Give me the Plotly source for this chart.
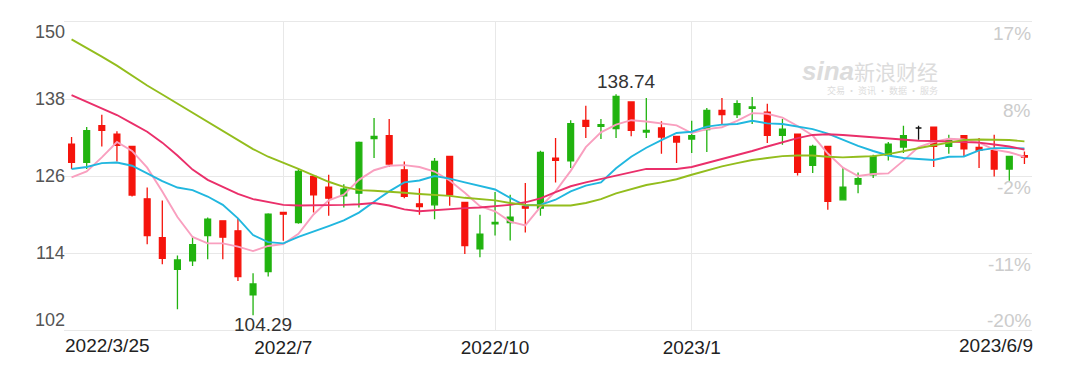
import plotly.graph_objects as go

# ---------------- data (weekly candles, 2022/3/25 .. 2023/6/9) ----------------
tick_idx = [14, 28, 41]
tick_text = ["2022/7", "2022/10", "2023/1"]
first_label = "2022/3/25"
last_label = "2023/6/9"

open_ = [130.98, 128.12, 133.84, 132.54, 130.61, 122.45, 116.41, 111.47, 112.77, 116.72,
         119.01, 117.45, 107.46, 111.10, 120.31, 118.75, 125.93, 124.27, 122.91, 123.33,
         131.81, 132.28, 126.97, 121.67, 121.51, 129.05, 121.87, 114.64, 118.54, 118.75,
         121.25, 120.99, 128.79, 128.38, 134.67, 133.74, 133.37, 137.53, 132.85, 133.48,
         132.17, 131.76, 133.22, 136.23, 135.56, 136.55, 135.97, 132.33, 132.54, 127.65,
         130.61, 122.29, 124.73, 126.19, 129.21, 130.51, 133.48, 133.63, 130.61, 132.28,
         130.46, 129.94, 127.08, 129.16]
high = [132.07, 133.63, 135.56, 132.96, 130.70, 124.21, 122.19, 113.60, 116.57, 119.53,
        119.10, 119.43, 110.84, 120.21, 120.31, 127.08, 126.03, 126.19, 124.73, 131.39,
        135.04, 134.88, 128.27, 124.11, 128.79, 129.10, 121.90, 119.95, 123.49, 123.07,
        124.89, 129.94, 131.91, 134.67, 136.96, 134.88, 138.74, 137.60, 138.16, 134.52,
        132.20, 134.62, 136.60, 138.16, 137.79, 138.31, 137.27, 134.88, 132.60, 130.87,
        130.65, 127.39, 126.56, 129.31, 131.29, 133.84, 133.84, 133.65, 132.44, 132.30,
        131.91, 132.44, 129.10, 129.83]
low = [127.08, 127.10, 130.61, 128.27, 122.80, 115.37, 112.25, 105.22, 111.99, 113.03,
       113.03, 109.65, 104.29, 110.32, 115.89, 118.54, 120.31, 119.79, 121.09, 121.09,
       128.79, 127.39, 122.55, 119.95, 119.27, 121.35, 113.86, 113.34, 116.72, 115.94,
       117.19, 119.79, 125.00, 127.23, 131.91, 131.76, 131.91, 132.18, 131.91, 129.47,
       128.01, 129.57, 129.73, 134.00, 135.04, 134.10, 131.13, 130.87, 126.09, 126.45,
       120.73, 122.20, 123.33, 125.67, 128.43, 129.57, 131.65, 127.39, 129.47, 129.05,
       127.23, 125.93, 125.26, 127.86]
close = [128.12, 133.06, 133.11, 130.77, 123.02, 116.72, 113.18, 112.92, 115.32, 119.27,
         116.46, 110.32, 109.18, 120.05, 120.05, 126.71, 123.07, 122.55, 123.95, 131.24,
         132.18, 127.86, 122.81, 121.25, 128.27, 123.07, 115.16, 116.93, 118.75, 119.58,
         120.99, 129.68, 128.43, 134.15, 133.74, 134.00, 138.42, 133.11, 133.11, 132.07,
         131.29, 132.28, 136.23, 135.56, 137.27, 136.75, 132.33, 133.32, 126.56, 130.61,
         122.03, 124.27, 125.57, 129.05, 130.98, 132.28, 133.48, 130.61, 131.65, 130.25,
         129.99, 127.08, 129.05, 128.95]

ma5 = [125.8, 126.7, 128.9, 131.3, 129.9, 127.3, 123.6, 119.6, 116.5, 115.5,
       115.5, 115.0, 114.3, 115.1, 115.4, 117.0, 120.0, 122.2, 123.1, 125.4,
       126.9, 127.6, 127.7, 127.4, 126.7, 125.3, 123.4, 121.3, 120.5, 118.9,
       118.3, 121.2, 123.6, 126.8, 130.5, 132.8, 134.0, 134.7, 134.5, 134.2,
       133.9, 132.7, 133.3, 133.6, 134.6, 135.8, 135.7, 135.1, 133.8, 132.3,
       129.5, 127.3, 126.0, 126.3, 126.4, 128.4, 130.5, 131.3, 131.8, 131.7,
       131.2, 130.1, 129.7, 129.0]
ma10 = [127.1, 127.4, 128.0, 128.1, 127.6, 126.4, 125.2, 124.2, 123.8, 122.8,
        121.5, 119.4, 116.8, 115.7, 115.5, 116.5, 117.3, 118.2, 119.1, 120.3,
        122.0, 123.6, 125.0, 125.3, 126.0, 125.6, 125.0, 124.4, 123.9, 122.6,
        121.4, 121.5, 122.3, 123.6, 124.5, 125.0, 127.2, 129.0, 130.4, 131.6,
        132.7, 132.9, 133.7, 134.0, 134.1, 134.6, 134.2, 134.1, 133.7, 133.3,
        132.6, 131.6, 130.7, 129.9, 129.2, 128.8, 128.6, 128.5, 129.0, 129.05,
        130.0, 130.35, 130.35, 130.3]
ma20 = [138.6, 137.6, 136.6, 135.5, 134.2, 132.9, 131.2, 129.2, 127.0, 125.4,
        124.3, 123.2, 122.4, 121.9, 121.5, 121.4, 121.4, 121.4, 121.5, 121.6,
        121.8, 121.4, 120.8, 120.5, 120.7, 120.9, 121.0, 121.1, 121.3, 121.5,
        121.9, 122.5, 123.5, 124.4, 125.0, 125.5, 126.0, 126.6, 127.1, 127.1,
        127.1, 127.4, 128.0, 128.7, 129.2, 129.9, 130.6, 131.3, 131.9, 132.4,
        132.5, 132.4, 132.2, 132.1, 131.9, 131.7, 131.5, 131.45, 131.4, 131.3,
        131.2, 130.9, 130.6, 130.1]
ma30 = [147.3, 146.0, 144.6, 143.2, 141.6, 140.1, 138.7, 137.3, 135.9, 134.5,
        133.1, 131.6, 130.2, 129.0, 128.1, 127.1, 126.1, 125.1, 124.3, 123.8,
        123.7, 123.6, 123.4, 123.2, 123.1, 122.9, 122.6, 122.4, 122.2, 121.8,
        121.5, 121.4, 121.35, 121.4, 121.8, 122.4, 123.3, 124.0, 124.6, 125.0,
        125.5, 126.2, 126.9, 127.5, 128.0, 128.5, 128.8, 129.1, 129.2, 129.2,
        129.0, 128.9, 129.0, 129.1, 129.4, 129.9, 130.4, 130.8, 131.2, 131.6,
        131.7, 131.7, 131.6, 131.4]

price_ticks = [150, 138, 126, 114, 102]
pct_ticks = ["17%", "8%", "-2%", "-11%", "-20%"]
max_idx, max_val = 36, 138.74
min_idx, min_val = 12, 104.29

# ---------------- styles ----------------
RED = "#f5140c"
GREEN = "#21b30f"
GRID = "#e8e8e8"
FONT = "Liberation Sans, Arial, sans-serif"
ma_styles = [("MA5", ma5, "#f99fbf"), ("MA10", ma10, "#21b7df"),
             ("MA20", ma20, "#ea2f6a"), ("MA30", ma30, "#93bd1d")]

x = list(range(len(close)))
doji = [o == c for o, c in zip(open_, close)]
sel = [i for i in x if not doji[i]]
sel_d = [i for i in x if doji[i]]

fig = go.Figure()
fig.add_trace(go.Candlestick(
    x=sel, open=[open_[i] for i in sel], high=[high[i] for i in sel],
    low=[low[i] for i in sel], close=[close[i] for i in sel],
    increasing=dict(line=dict(color=GREEN, width=1.3), fillcolor=GREEN),
    decreasing=dict(line=dict(color=RED, width=1.3), fillcolor=RED),
    whiskerwidth=0, showlegend=False, hoverinfo="skip"))
fig.add_trace(go.Candlestick(
    x=sel_d, open=[open_[i] for i in sel_d], high=[high[i] for i in sel_d],
    low=[low[i] for i in sel_d], close=[close[i] for i in sel_d],
    increasing=dict(line=dict(color="#111111", width=1.3), fillcolor="#111111"),
    decreasing=dict(line=dict(color="#111111", width=1.3), fillcolor="#111111"),
    whiskerwidth=0, showlegend=False, hoverinfo="skip"))

for name, vals, col in ma_styles:
    fig.add_trace(go.Scatter(x=x, y=vals, mode="lines", name=name,
                             line=dict(color=col, width=1.9), showlegend=False,
                             hoverinfo="skip"))

ann = []
# left price labels
for v in price_ticks:
    shift = -10 if v == max(price_ticks) else (10 if v == min(price_ticks) else 0)
    ann.append(dict(x=0, xref="paper", y=v, yref="y", text=str(v), showarrow=False,
                    xanchor="right", yanchor="middle", xshift=3, yshift=shift,
                    font=dict(family=FONT, size=18, color="#555555")))
# right percent labels
for v, t in zip(price_ticks, pct_ticks):
    shift = 10 if v == min(price_ticks) else -11
    ann.append(dict(x=1, xref="paper", y=v, yref="y", text=t, showarrow=False,
                    xanchor="right", yanchor="middle", xshift=1, yshift=shift,
                    font=dict(family=FONT, size=19, color="#cccccc")))
# first / last date labels
ann.append(dict(x=0, xref="paper", y=0, yref="paper", text=first_label, showarrow=False,
                xanchor="left", yanchor="middle", xshift=-1, yshift=-15,
                font=dict(family=FONT, size=19, color="#222222")))
ann.append(dict(x=1, xref="paper", y=0, yref="paper", text=last_label, showarrow=False,
                xanchor="right", yanchor="middle", xshift=3, yshift=-15,
                font=dict(family=FONT, size=19, color="#222222")))
# max / min labels
ann.append(dict(x=max_idx, y=max_val, text=f"{max_val:.2f}", showarrow=False,
                xanchor="center", yanchor="bottom", xshift=10, yshift=0,
                font=dict(family=FONT, size=19, color="#333333")))
ann.append(dict(x=min_idx, y=min_val, text=f"{min_val:.2f}", showarrow=False,
                xanchor="center", yanchor="top", xshift=10, yshift=3,
                font=dict(family=FONT, size=19, color="#333333")))
# watermark (single text block)
ann.append(dict(x=0.905, xref="paper", y=0.822, yref="paper",
                text=("<span style='font-size:26px;font-family:Liberation Sans'><b><i>sina</i></b></span>"
                      "<span style='font-size:21px'>新浪财经</span><br>"
                      "<span style='font-size:9px'>交易 · 资讯 · 数据 · 服务</span>"),
                showarrow=False, xanchor="right", yanchor="middle", align="right",
                font=dict(family="Noto Sans CJK SC", size=11, color="#dcdcdc")))

fig.update_layout(
    width=1072, height=369,
    margin=dict(l=56, r=48, t=14, b=47),
    paper_bgcolor="white", plot_bgcolor="white",
    boxgap=0.45,
    annotations=ann,
    xaxis=dict(range=[-0.5, 63.5], tickvals=tick_idx, ticktext=tick_text,
               showgrid=True, gridcolor=GRID, gridwidth=1, showline=True,
               linecolor=GRID, mirror=True, ticks="", zeroline=False,
               rangeslider=dict(visible=False),
               tickfont=dict(family=FONT, size=19, color="#222222")),
    yaxis=dict(range=[102, 150], tickvals=price_ticks, showticklabels=False,
               showgrid=True, gridcolor=GRID, gridwidth=1, zeroline=False,
               ticks="", showline=False),
)

fig.write_html("out.html")
